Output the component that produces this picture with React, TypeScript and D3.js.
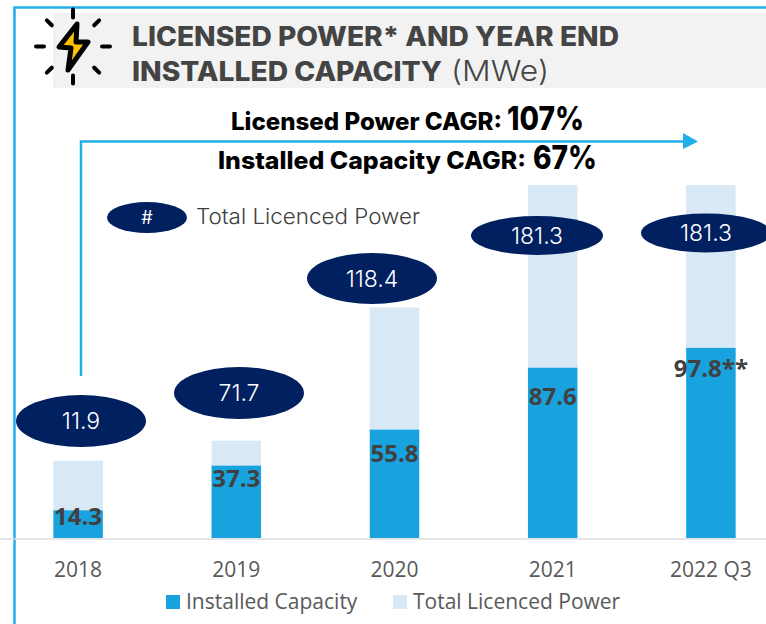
import React from 'react';
import * as d3 from 'd3';

const years = ['2018', '2019', '2020', '2021', '2022 Q3'];
// bar heights as drawn; the first two licensed labels do not match their bars
const installed = [14.3, 37.3, 55.8, 87.6, 97.8];
const licensedTotal = [39.7, 50, 118.4, 181.3, 181.3];
const installedLabels = ['14.3', '37.3', '55.8', '87.6', '97.8**'];
const licensedLabels = ['11.9', '71.7', '118.4', '181.3', '181.3'];
const sparks = [0, 45, 90, 135, 180, 225, 270, 315];

const width = 766;
const height = 624;
const baseline = 538;

const BLUE = '#19a3de';
const LIGHT = '#d9e8f5';
const NAVY = '#002060';
const LINE = '#1fb0ea';
const HEAD = 'Inter, sans-serif';
const BODY = '"Open Sans", sans-serif';

const x = d3.scaleBand<string>()
  .domain(years)
  .range([-1, 790])
  .paddingInner(0.687)
  .paddingOuter(0.3435);
const y = d3.scaleLinear().domain([0, 181.3]).range([baseline, 185]);

const rows = years.map((year, i) => ({
  year,
  installed: installed[i],
  licensed: licensedTotal[i] - installed[i],
}));
const stacked = d3.stack<any>().keys(['installed', 'licensed'])(rows);
const colors = [BLUE, LIGHT];

// ellipse placement per bar
const bubbles = [
  { cx: 81, cy: 421, rx: 65, ry: 26 },
  { cx: 239, cy: 393, rx: 65, ry: 26 },
  { cx: 372, cy: 278.5, rx: 65, ry: 25.5 },
  { cx: 537, cy: 235.5, rx: 66, ry: 19.5 },
  { cx: 706, cy: 233, rx: 65, ry: 19.5 },
];
const installedLabelY = [525, 487, 462, 405, 377];

export default function App() {
  return (
    <svg width={width} height={height} style={{ position: 'absolute', left: 0, top: 0, background: '#fff' }}>
      {/* frame */}
      <path d={`M14.5,624V7.5H${width}`} fill="none" stroke={LINE} strokeWidth={2.5} />

      {/* title */}
      <rect x={53} y={13} width={713} height={75} fill="#f2f2f2" />
      <text x={132} y={46} fontFamily={HEAD} fontWeight={800} fontSize={26.5} fill="#444" textLength={487} lengthAdjust="spacingAndGlyphs">
        LICENSED POWER* AND YEAR END
      </text>
      <text x={132} y={81} fontFamily={HEAD} fontWeight={800} fontSize={26.5} fill="#444" textLength={310} lengthAdjust="spacingAndGlyphs">
        INSTALLED CAPACITY
      </text>
      <text x={451} y={81} fontFamily={HEAD} fontWeight={300} fontSize={29} fill="#444" textLength={98} lengthAdjust="spacingAndGlyphs">
        (MWe)
      </text>

      {/* bolt icon */}
      <g stroke="#000" strokeWidth={4} strokeLinecap="round">
        {sparks.map(a => {
          const r = (a * Math.PI) / 180;
          const inner = a % 90 === 0 ? 29 : 30;
          return (
            <line
              key={a}
              x1={73 + Math.cos(r) * inner}
              y1={46.5 + Math.sin(r) * inner}
              x2={73 + Math.cos(r) * 37}
              y2={46.5 + Math.sin(r) * 37}
            />
          );
        })}
      </g>
      <path
        d="M77,24 L59,47 L71,48 L68,70 L88,42 L76,42 Z"
        fill="#ffc000"
        stroke="#000"
        strokeWidth={5}
        strokeLinejoin="round"
      />

      {/* cagr */}
      <text x={231} y={130} fontFamily={HEAD} fontWeight={800} fontSize={24} fill="#000" textLength={271} lengthAdjust="spacingAndGlyphs">
        Licensed Power CAGR:
      </text>
      <text x={507} y={130} fontFamily={HEAD} fontWeight={800} fontSize={32} fill="#000" textLength={77} lengthAdjust="spacingAndGlyphs">
        107%
      </text>
      <text x={218} y={169} fontFamily={HEAD} fontWeight={800} fontSize={24} fill="#000" textLength={308} lengthAdjust="spacingAndGlyphs">
        Installed Capacity CAGR:
      </text>
      <text x={533} y={169} fontFamily={HEAD} fontWeight={800} fontSize={32} fill="#000" textLength={64} lengthAdjust="spacingAndGlyphs">
        67%
      </text>

      {/* bars */}
      {stacked.map((s, k) => (
        <g key={s.key} fill={colors[k]}>
          {s.map((d: any, i: number) => (
            <rect key={years[i]} x={x(years[i])} y={y(d[1])} width={x.bandwidth()} height={y(d[0]) - y(d[1])} />
          ))}
        </g>
      ))}

      {/* axis */}
      <line x1={0} x2={width} y1={baseline + 1} y2={baseline + 1} stroke="#dcdcdc" strokeWidth={1.5} />
      {years.map(year => (
        <text key={year} x={x(year)! + x.bandwidth() / 2} y={577} textAnchor="middle" fontFamily={BODY} fontSize={21} fill="#595959">
          {year}
        </text>
      ))}

      {/* arrow */}
      <path d="M81,376V141.5H684" fill="none" stroke={LINE} strokeWidth={2.5} />
      <path d="M683,133L698,141.5L683,149Z" fill={LINE} />

      {/* installed labels */}
      {installedLabels.map((label, i) => (
        <text
          key={label}
          x={x(years[i])! + x.bandwidth() / 2}
          y={installedLabelY[i]}
          textAnchor="middle"
          fontFamily={BODY}
          fontWeight={700}
          fontSize={24}
          fill="#404040"
        >
          {label}
        </text>
      ))}

      {/* licensed bubbles */}
      {bubbles.map((b, i) => (
        <g key={i}>
          <ellipse cx={b.cx} cy={b.cy} rx={b.rx} ry={b.ry} fill={NAVY} />
          <text x={b.cx} y={b.cy + 8} textAnchor="middle" fontFamily={HEAD} fontWeight={300} fontSize={23} fill="#fff">
            {licensedLabels[i]}
          </text>
        </g>
      ))}

      {/* annotation key */}
      <ellipse cx={147} cy={217.5} rx={40} ry={15.5} fill={NAVY} />
      <text x={147} y={224} textAnchor="middle" fontFamily={HEAD} fontSize={18} fill="#fff">#</text>
      <text x={196} y={224} fontFamily={HEAD} fontWeight={300} fontSize={21.5} fill="#404040" textLength={224} lengthAdjust="spacingAndGlyphs">
        Total Licenced Power
      </text>

      {/* legend */}
      <rect x={166} y={595} width={14} height={14} fill={BLUE} />
      <text x={186} y={609} fontFamily={BODY} fontSize={21} fill="#595959">Installed Capacity</text>
      <rect x={393} y={595} width={14} height={14} fill={LIGHT} />
      <text x={413} y={609} fontFamily={BODY} fontSize={21} fill="#595959">Total Licenced Power</text>
    </svg>
  );
}
